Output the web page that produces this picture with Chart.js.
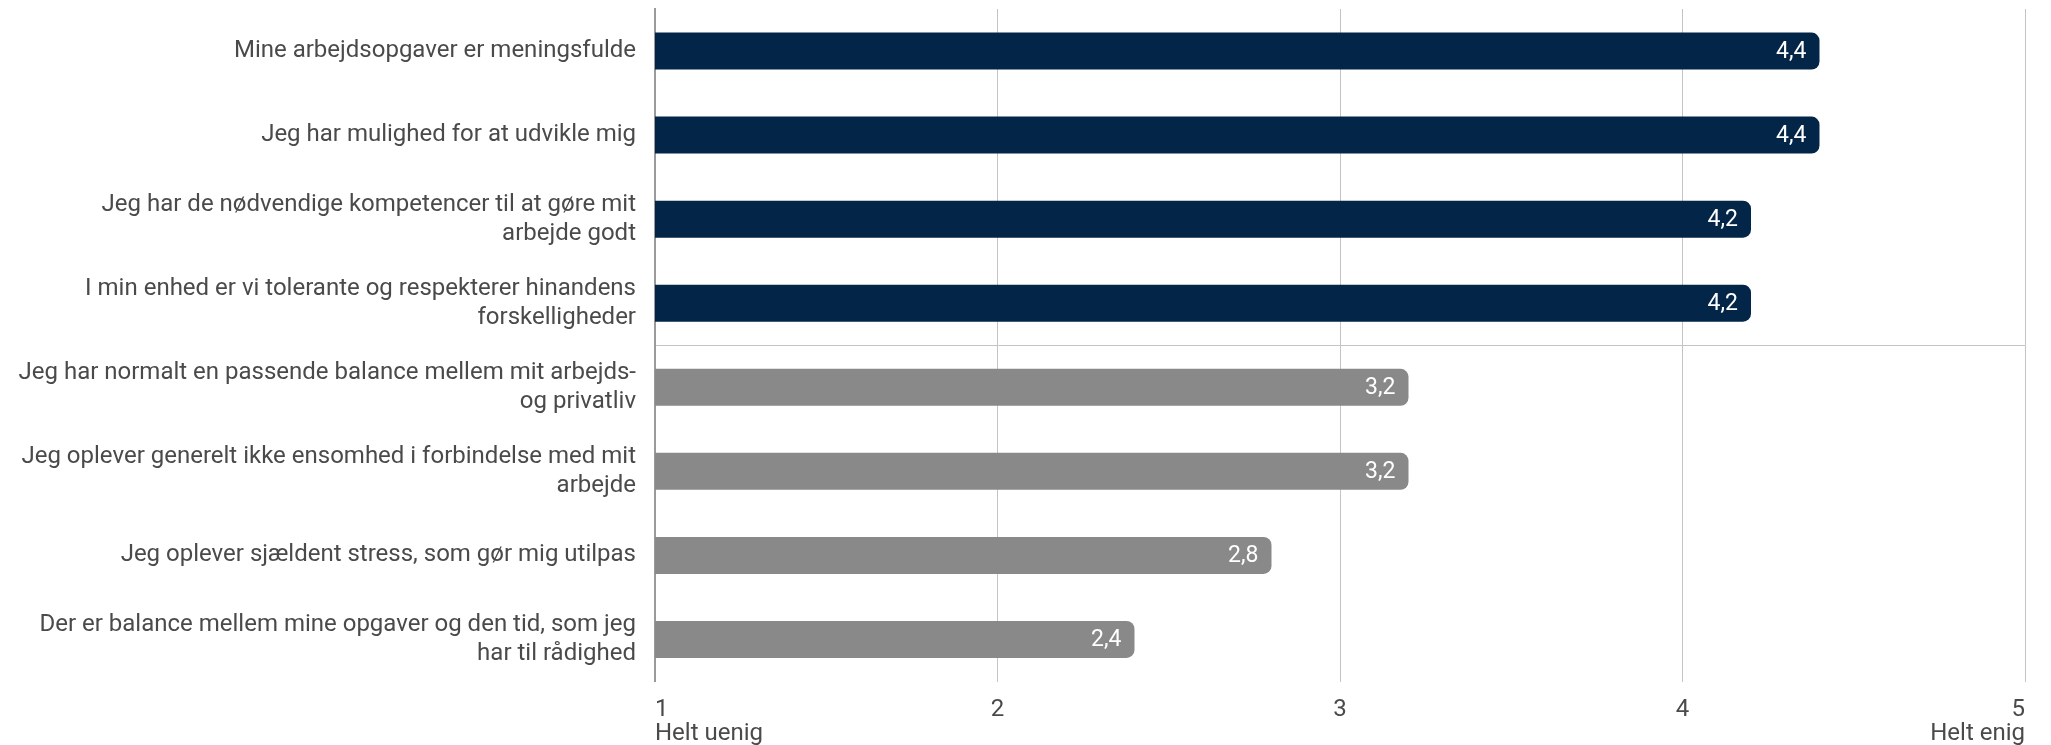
<!DOCTYPE html>
<html lang="da">
<head>
<meta charset="utf-8">
<title>Trivsel og arbejde</title>
<script src="https://cdn.jsdelivr.net/npm/chart.js@4.4.1/dist/chart.umd.min.js"></script>
<style>
  html, body { margin: 0; padding: 0; background: #ffffff; }
  #wrap { width: 2051px; height: 745px; position: relative; }
</style>
</head>
<body>
<div id="wrap"><canvas id="chart"></canvas></div>
<script>
// Survey statements (each entry is one label, split into its lines)
const categories = [
  ["Mine arbejdsopgaver er meningsfulde"],
  ["Jeg har mulighed for at udvikle mig"],
  ["Jeg har de nødvendige kompetencer til at gøre mit", "arbejde godt"],
  ["I min enhed er vi tolerante og respekterer hinandens", "forskelligheder"],
  ["Jeg har normalt en passende balance mellem mit arbejds-", "og privatliv"],
  ["Jeg oplever generelt ikke ensomhed i forbindelse med mit", "arbejde"],
  ["Jeg oplever sjældent stress, som gør mig utilpas"],
  ["Der er balance mellem mine opgaver og den tid, som jeg", "har til rådighed"]
];

// Average score per statement (scale 1-5)
const scores = [4.4, 4.4, 4.2, 4.2, 3.2, 3.2, 2.8, 2.4];

// Group of each statement: the top group is drawn dark, the rest grey
const groups = ["top", "top", "top", "top", "low", "low", "low", "low"];

// Scale ticks and the captions at both ends of the scale
const tickValues = [1, 2, 3, 4, 5];
const tickCaptions = { 1: "Helt uenig", 5: "Helt enig" };

const groupColors = { top: "#032548", low: "#898989" };
const textColor = "#4a4a4a";
const fontFamily = "Roboto, 'Noto Sans', sans-serif";

// Writes each bar's value inside its right end, with a decimal comma
const valueLabels = {
  id: "valueLabels",
  afterDatasetsDraw(chart) {
    const ctx = chart.ctx;
    const meta = chart.getDatasetMeta(0);
    ctx.save();
    ctx.font = "23px " + fontFamily;
    ctx.fillStyle = "#ffffff";
    ctx.textAlign = "right";
    ctx.textBaseline = "middle";
    meta.data.forEach((bar, i) => {
      const txt = scores[i].toFixed(1).replace(".", ",");
      ctx.fillText(txt, bar.x - 13, bar.y + 1);
    });
    ctx.restore();
  }
};

new Chart(document.getElementById("chart"), {
  type: "bar",
  data: {
    labels: categories,
    datasets: [{
      data: scores,
      backgroundColor: groups.map(g => groupColors[g]),
      borderRadius: { topLeft: 0, bottomLeft: 0, topRight: 8, bottomRight: 8 },
      borderSkipped: false,
      categoryPercentage: 1,
      barPercentage: 0.44
    }]
  },
  options: {
    indexAxis: "y",
    responsive: true,
    maintainAspectRatio: false,
    animation: false,
    layout: { padding: { top: 9, right: 26, bottom: 0, left: 0 } },
    plugins: {
      legend: { display: false },
      tooltip: { enabled: false }
    },
    scales: {
      x: {
        type: "linear",
        min: tickValues[0],
        max: tickValues[tickValues.length - 1],
        afterBuildTicks(scale) {
          scale.ticks = tickValues.map(v => ({ value: v }));
        },
        afterFit(scale) {
          scale.height = 63.5;
          scale.paddingLeft = 0;
          scale.paddingRight = 0;
        },
        border: { display: false },
        grid: { color: "#c4c4c4", lineWidth: 1, drawTicks: false },
        ticks: {
          align: "inner",
          padding: 16,
          color: textColor,
          font: { family: fontFamily, size: 24, lineHeight: 1.0 },
          callback(value) {
            return tickCaptions[value] ? [String(value), tickCaptions[value]] : String(value);
          }
        }
      },
      y: {
        afterFit(scale) {
          scale.width = 655;
          scale.paddingTop = 0;
          scale.paddingBottom = 0;
        },
        border: { display: true, color: "#9a9a9a", width: 2 },
        grid: {
          offset: true,
          drawTicks: false,
          lineWidth: 1,
          // single divider between the dark and the grey group
          color(ctx) {
            return ctx.index === groups.indexOf("low") ? "#c4c4c4" : "rgba(0,0,0,0)";
          }
        },
        ticks: {
          padding: 19,
          color: textColor,
          font: { family: fontFamily, size: 24, lineHeight: 1.2 }
        }
      }
    }
  },
  plugins: [valueLabels]
});
</script>
</body>
</html>
